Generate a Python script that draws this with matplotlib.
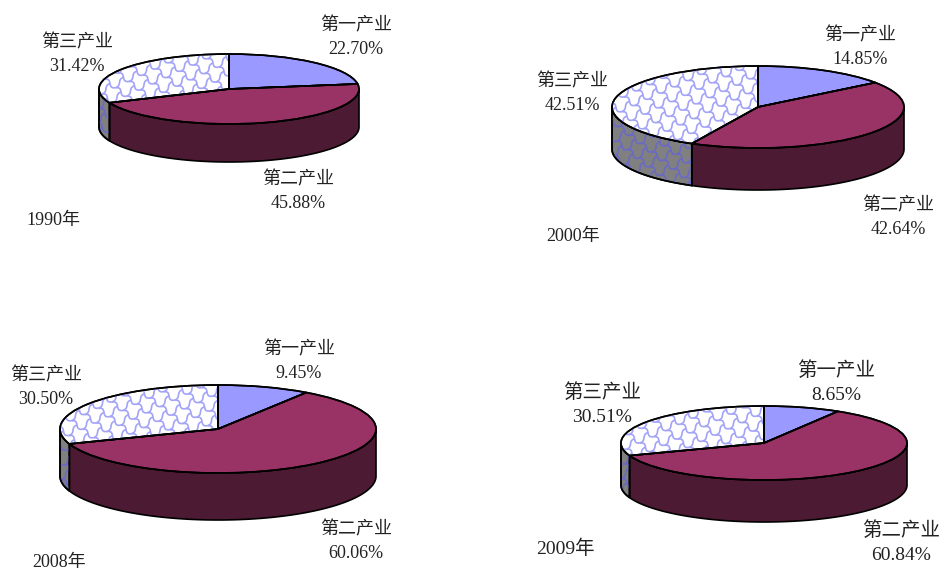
import numpy as np
import matplotlib
matplotlib.use('Agg')
import matplotlib.pyplot as plt
from matplotlib.collections import LineCollection
from matplotlib.patches import Polygon
from matplotlib.transforms import IdentityTransform

W, H = 945, 571

industries = ['第一产业', '第二产业', '第三产业']
years = ['1990年', '2000年', '2008年', '2009年']
shares_1990 = [22.70, 45.88, 31.42]
shares_2000 = [14.85, 42.64, 42.51]
shares_2008 = [9.45, 60.06, 30.50]
shares_2009 = [8.65, 60.84, 30.51]
all_shares = [shares_1990, shares_2000, shares_2008, shares_2009]

top_colors = ['#9999FF', '#993366', 'white']
side_colors = ['#4D4D80', '#4D1A33', '#808080']
hatch_color = '#A3A3F8'

# cx, cy, a, b, depth of each pie in pixels
pie_boxes = [(229, 89, 130, 35, 38),
             (758, 107, 146, 41, 42),
             (218, 429, 158, 44, 47),
             (764, 443, 143, 37, 42)]
# label centres in pixels: first, second, third industry, year
label_pos = [[(356, 26), (298, 180), (77, 43), (53, 221)],
             [(860, 36), (898, 206), (572, 82), (573, 236)],
             [(299, 350), (356, 530), (46, 376), (59, 562)],
             [(836, 371), (901, 531), (602, 393), (565, 549)]]
font_sizes = [13, 13, 13, 14]
font = ['Liberation Serif', 'Noto Sans CJK SC']


def scale_lines():
    # wavy brick pattern, in display pixels
    u = np.array([11.0, -8.5])
    v = np.array([8.0, 10.5])
    s = np.linspace(0, 1, 11)
    nrm = np.array([-u[1], u[0]]) / np.hypot(*u)
    segs = []
    for i in range(-90, 90):
        for j in range(-90, 90):
            o = np.array([480.0, 285.0]) + i * u + j * v + (j % 2) * 0.5 * u
            along = o + np.outer(s, u) + np.outer(2.0 * np.sin(2 * np.pi * s), nrm)
            segs.append(along)
            across = o + np.outer(s, v) + np.outer(1.2 * np.sin(2 * np.pi * s), u / np.hypot(*u))
            segs.append(across)
    return segs


def side_wall(shares):
    # outer wall of each slice, lower half of the ellipse only
    edges = 90 - 3.6 * np.cumsum([0] + list(shares))
    walls = []
    for k in range(len(shares)):
        start, stop = edges[k], edges[k + 1]
        t = np.linspace(start, stop, 200) % 360
        t = t[(t >= 180) & (t <= 360)]
        walls.append(np.radians(t))
    return walls


fig = plt.figure(figsize=(W / 100, H / 100), dpi=100)
pattern = scale_lines()

for shares, box, spots, year, fs in zip(all_shares, pie_boxes, label_pos, years, font_sizes):
    cx, cy, a, b, depth = box
    m = 4
    ax = fig.add_axes([(cx - a - m) / W, 1 - (cy + b + depth + m) / H,
                       (2 * a + 2 * m) / W, (2 * b + depth + 2 * m) / H])
    ax.axis('off')
    d = depth / b

    for k, t in enumerate(side_wall(shares)):
        if len(t) < 2:
            continue
        xs = np.cos(t)
        ys = np.sin(t)
        pts = np.vstack([np.column_stack([xs, ys]),
                         np.column_stack([xs, ys - d])[::-1]])
        wall = Polygon(pts, closed=True, facecolor=side_colors[k], edgecolor='black',
                       linewidth=1.2, joinstyle='round', zorder=1)
        ax.add_patch(wall)
        if k == 2:
            lc = LineCollection(pattern, colors='#6A6AC4', linewidths=1.2,
                                transform=IdentityTransform(), zorder=1.5)
            ax.add_collection(lc, autolim=False)
            lc.set_clip_path(wall)
            ax.add_patch(Polygon(pts, closed=True, facecolor='none', edgecolor='black',
                                 linewidth=1.2, zorder=1.6))

    wedges, _ = ax.pie(shares, colors=top_colors, startangle=90, counterclock=False,
                       wedgeprops=dict(edgecolor='black', linewidth=1.2, zorder=2))
    lc = LineCollection(pattern, colors=hatch_color, linewidths=1.2,
                        transform=IdentityTransform(), zorder=2.5)
    ax.add_collection(lc, autolim=False)
    lc.set_clip_path(wedges[2])
    outline, _ = ax.pie(shares, colors=['none'] * 3, startangle=90, counterclock=False,
                        wedgeprops=dict(edgecolor='black', linewidth=1.2, zorder=3))

    ax.set_aspect('auto')
    ax.set_xlim(-1 - m / a, 1 + m / a)
    ax.set_ylim(-1 - d - m / b, 1 + m / b)

    for name, val, (px, py) in zip(industries, shares, spots):
        fig.text(px / W, 1 - py / H, name, ha='center', va='center',
                 family=font, fontsize=fs, color='#222222')
        gap = 25 if fs == 14 else 23.5
        fig.text(px / W, 1 - (py + gap) / H, '%.2f%%' % val, ha='center', va='center',
                 family=font, fontsize=fs, color='#222222')
    px, py = spots[3]
    fig.text(px / W, 1 - py / H, year, ha='center', va='center',
             family=font, fontsize=fs, color='#222222')

fig.savefig('out.png', dpi=100)
